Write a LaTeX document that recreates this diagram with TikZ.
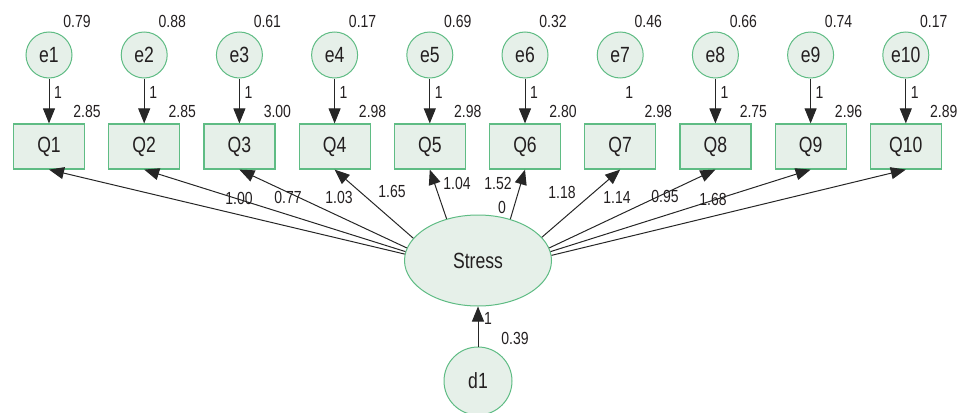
\documentclass[tikz,border=0pt]{standalone}
\usepackage{fontspec}
\setmainfont{Liberation Sans}[FakeStretch=0.8]
\usetikzlibrary{arrows.meta,shapes.geometric}
\definecolor{nodefill}{RGB}{230,240,233}
\definecolor{nodeline}{RGB}{95,188,132}
\definecolor{txt}{RGB}{35,31,32}
\begin{document}
\begin{tikzpicture}[x=1pt,y=-1pt,
  nodefont/.style={font=\fontsize{22}{26}\selectfont},
  err/.style={circle,draw=nodeline,fill=nodefill,line width=1pt,minimum size=46pt,inner sep=0pt,text=txt,nodefont},
  obs/.style={rectangle,draw=nodeline,fill=nodefill,line width=1.2pt,minimum width=71pt,minimum height=45pt,inner sep=0pt,text=txt,nodefont},
  lat/.style={ellipse,draw=nodeline,fill=nodefill,line width=1pt,minimum width=147pt,minimum height=91pt,inner sep=0pt,text=txt,nodefont},
  lbl/.style={text=txt,font=\fontsize{17.5}{20}\selectfont,inner sep=0pt},
  arr/.style={-{Triangle[length=15pt,width=12pt]},line width=1pt,draw=black!85}]
\useasboundingbox (0,0) rectangle (957,412);
\foreach \i/\v/\m in {1/0.79/2.85,2/0.88/2.85,3/0.61/3.00,4/0.17/2.98,5/0.69/2.98,6/0.32/2.80,7/0.46/2.98,8/0.66/2.75,9/0.74/2.96,10/0.17/2.89}{
  \pgfmathsetmacro\xx{49+95.2*(\i-1)}
  \node[err] (e\i) at (\xx,55) {e\i};
  \node[obs] (Q\i) at (\xx,146.5) {Q\i};
  \node[lbl] (v\i) at (\xx+28,21) {\v};
  \node[lbl] (m\i) at (\xx+38,111) {\m};
  \node[lbl] (w\i) at (\xx+9,92) {1};
}
\foreach \i in {1,2,3,4,5,6,8,9,10}{
  \draw[arr] (e\i) -- (Q\i);
}
\node[lat] (S) at (478,260.5) {Stress};
\foreach \i/\a in {1/175,2/173,3/170,4/161,5/127,6/52,7/20,8/10,9/7,10/4}{
  \draw[arr] (S.\a) -- (Q\i.south);
}
\node[lbl] (p1) at (239,198) {1.00};
\node[lbl] (p2) at (288,197) {0.77};
\node[lbl] (p3) at (339,197) {1.03};
\node[lbl] (p4) at (392,191) {1.65};
\node[lbl] (p5) at (457,183) {1.04};
\node[lbl] (p6) at (498,183) {1.52};
\node[lbl] (p6b) at (502,207) {0};
\node[lbl] (p7) at (562,192) {1.18};
\node[lbl] (p8) at (617,197) {1.14};
\node[lbl] (p9) at (665,196) {0.95};
\node[lbl] (p10) at (713,199) {1.68};
\node[err,minimum size=68pt] (d1) at (478,381) {d1};
\draw[arr] (d1) -- (S);
\node[lbl] (dw) at (488,318) {1};
\node[lbl] (dv) at (515,338) {0.39};
\end{tikzpicture}
\end{document}
